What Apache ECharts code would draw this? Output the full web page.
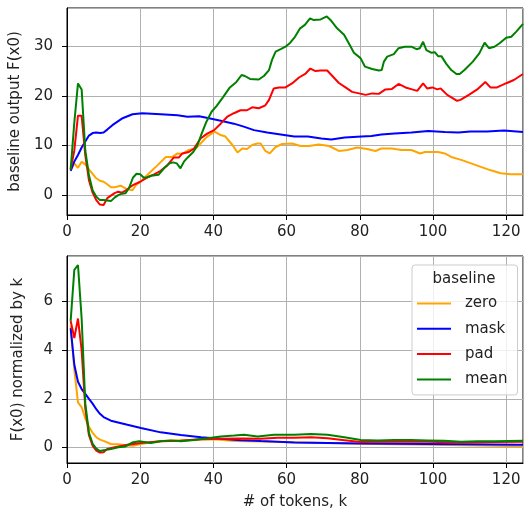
<!DOCTYPE html>
<html>
<head>
<meta charset="utf-8">
<script src="https://cdn.jsdelivr.net/npm/echarts@6/dist/echarts.min.js"></script>
<style>html,body{margin:0;padding:0;background:#fff}#c{width:524px;height:515px}</style>
</head>
<body>
<div id="c"></div>
<script>
// ---- data (k, value) ----
const seriesNames = ['zero', 'mask', 'pad', 'mean'];
const seriesColors = ['#FFA500', '#0000FF', '#FF0000', '#008000'];
const xTicks = [0, 20, 40, 60, 80, 100, 120];
const topYTicks = [0, 10, 20, 30];
const bottomYTicks = [0, 2, 4, 6];

// top panel: baseline output F(x0)
const zeroTop = [[1,5],[2,6.4],[3,5.5],[4,6.7],[5,6.2],[6,5.2],[7,4.3],[8,3.4],[9,2.9],[10,2.7],[11,2.2],[12,1.6],[13,1.6],[14.7,1.9],[16.1,1.3],[17.9,1],[18.8,2],[20.1,2.7],[22.4,4.4],[24.7,6],[27,7.7],[28.8,7.7],[30.2,8.4],[31.5,8.3],[33.3,9.1],[35.2,9.4],[36.5,10.4],[38.3,11.8],[40.3,12.8],[42,12.1],[43.3,11.8],[45.2,10.1],[46.6,8.6],[47.9,9.4],[49.2,9.3],[50.6,10.1],[52,10.4],[52.9,10.4],[54.2,8.9],[55.4,8.4],[57,9.7],[58.8,10.3],[61.5,10.4],[63.8,9.9],[66.1,9.9],[68.8,10.2],[71.6,9.9],[74.3,8.9],[76.6,9.1],[79.3,9.6],[82,9.3],[84.3,8.9],[85.9,9.4],[88.7,9.4],[91.4,9.1],[94.1,9.1],[96.5,8.4],[97.8,8.7],[99.6,8.7],[101.4,8.7],[103.2,8.4],[105,7.7],[107.7,7.1],[110.4,6.4],[113.1,5.7],[115.8,5],[118.5,4.4],[121.2,4.2],[124.6,4.2]];
const maskTop = [[1,4.9],[2,6.8],[3,8.1],[4,9.6],[5,10.8],[6,12],[7,12.5],[8,12.6],[9,12.5],[10,12.6],[11,13.2],[12.4,14.1],[15.2,15.5],[17.9,16.3],[20.6,16.5],[25.6,16.3],[30.2,16.1],[32.9,15.8],[36.1,15.9],[38.8,15.5],[42,15],[45.6,14.4],[48.3,13.8],[51.1,13.1],[54.7,12.6],[58.4,12.2],[62.1,11.8],[65.8,11.8],[69.5,11.4],[72.2,11.2],[75.9,11.6],[80.5,11.8],[83.2,11.9],[85.9,12.2],[89.5,12.4],[94.1,12.6],[98.7,12.9],[103.2,12.7],[106.9,12.6],[110.2,12.8],[114.8,12.8],[119.4,13],[124.6,12.7]];
const padTop = [[1,5.2],[2,9],[3,16],[4,16],[5,8],[6,3],[7,0.5],[8,-1],[9,-1.9],[10,-2],[11,-0.6],[12,-0.1],[13,0.4],[14,0.7],[15,0.5],[16,0.9],[17,1.5],[18,2],[20,2.7],[22,3.6],[23.8,4.2],[25.6,4.9],[27.4,6],[29.2,7.6],[30.6,7.6],[31.5,8.4],[33.3,8.7],[34.7,9.4],[36.5,11.4],[38.3,12.4],[40.2,13.1],[42,14.4],[43.8,15.8],[45.6,16.5],[47.4,17.1],[49.2,17.1],[50.6,17.7],[52.4,17.5],[54.2,18.1],[55.2,19.2],[56.5,21.5],[57.9,21.7],[59.7,21.7],[61.5,22.5],[63.4,23.7],[65.2,24.5],[66.5,25.5],[67.9,25],[69.3,25.1],[71.1,25.1],[72.5,24],[74.3,22.6],[76.1,21.7],[77.9,20.8],[79.8,20.5],[81.6,20.2],[83.4,20.5],[85.2,20.4],[87,21.3],[88.8,21.4],[90.6,22.4],[92.5,21.7],[94.3,21.3],[95.7,21],[97.3,22.5],[98.4,21.5],[99.8,21.7],[101.2,21.3],[102.1,21.5],[103.9,20.2],[106.6,19],[107.5,19.2],[109.8,20.2],[112.1,21.3],[114.3,22.8],[115.7,21.7],[117.5,21.7],[120.2,22.6],[122.1,23.2],[124.6,24.4]];
const meanTop = [[1,5.2],[2,14.6],[3,22.5],[4,21.3],[5,9],[6,4],[7,1],[8,-0.3],[9,-1],[10,-1],[11,-1.1],[12,-1.2],[13,-0.5],[14,0],[15,0.3],[16,0.4],[17,1.5],[18,3.5],[19,4.3],[20,4.2],[21,3.5],[22,3.6],[23,3.9],[25,4.1],[26.5,5.4],[28,6.4],[29,6.6],[30,6.4],[31,5.4],[32,6.8],[33,7.6],[34.5,8.7],[35.6,10],[36.8,12.4],[38.1,14.8],[39.5,16.8],[40.9,18],[42.7,19.8],[44.5,21.7],[46.3,22.8],[47.7,24.2],[48.6,24],[50,23.4],[52.4,23.3],[53.8,24],[55.2,25.2],[56,27.2],[57,28.9],[58.4,29.4],[59.7,29.9],[61,30.7],[62.3,31.9],[63.7,33.6],[65,34.3],[66.4,35.6],[67.3,35.3],[69.3,35.4],[71,36],[72,35.3],[73.8,33.6],[75.7,32.3],[77,30.6],[78.4,28.7],[80.2,27.6],[81.4,25.9],[83.4,25.4],[85.2,25.1],[86,25.2],[86.6,26.9],[87.5,27.9],[89.3,28.4],[90.6,29.6],[92.3,29.9],[94.1,29.9],[95.5,29.4],[96.4,29.6],[97.3,30.9],[98.2,29.2],[99.5,28.7],[100.5,28.8],[101.4,28],[102.3,28],[103.6,26.5],[105,25.2],[106.4,24.4],[107.3,24.4],[108.6,25.2],[110.9,26.9],[112.7,28.6],[114.1,30.7],[115.3,29.6],[116.8,29.9],[118.2,30.6],[120,31.7],[121.4,31.9],[122.7,32.9],[124.6,34.5]];

// bottom panel: F(x0) normalized by k
const zeroBottom = [[1,5],[2,3.2],[3,1.85],[4,1.65],[5,1.2],[6,0.85],[7,0.6],[8,0.42],[9,0.32],[10,0.27],[12,0.14],[14,0.13],[16.5,0.08],[18,0.07],[20.2,0.14],[25.6,0.26],[31.1,0.3],[36.6,0.33],[40.2,0.34],[45.7,0.26],[53,0.24],[62.1,0.21],[71.2,0.18],[80.3,0.15],[89.4,0.13],[98.6,0.11],[107.7,0.09],[116.8,0.07],[124.6,0.05]];
const maskBottom = [[1,4.9],[2,3.4],[3,2.7],[4,2.4],[5,2.2],[6,2.0],[7,1.8],[8,1.57],[9,1.38],[10,1.25],[12,1.1],[16.5,0.93],[20.2,0.8],[25.6,0.62],[31.1,0.51],[36.6,0.42],[42,0.36],[47.5,0.3],[53,0.26],[62.1,0.2],[71.2,0.18],[80.3,0.16],[89.4,0.15],[98.6,0.14],[107.7,0.13],[124.6,0.11]];
const padBottom = [[1,5.2],[2,4.5],[3,5.3],[4,4.0],[5,1.6],[6,0.5],[7,0.07],[8,-0.13],[9,-0.21],[10,-0.2],[11,-0.06],[13,0.01],[16.5,0.11],[20.2,0.18],[25.6,0.25],[31.1,0.27],[36.6,0.34],[42,0.36],[47.5,0.37],[53,0.36],[57.5,0.4],[62.1,0.4],[66.7,0.42],[71.2,0.38],[75.8,0.3],[80.3,0.22],[89.4,0.23],[98.6,0.23],[107.7,0.2],[116.8,0.22],[124.6,0.23]];
const meanBottom = [[1,5.2],[2,7.3],[3,7.5],[4,5.3],[5,1.8],[6,0.6],[7,0.15],[8,-0.05],[9,-0.15],[10,-0.12],[12,-0.07],[14,0.01],[16,0.04],[17.8,0.2],[19.7,0.25],[22.9,0.18],[25.6,0.25],[28.4,0.29],[31.1,0.25],[34.7,0.31],[38.4,0.38],[42,0.45],[45.7,0.49],[48.4,0.52],[52.1,0.45],[56.6,0.52],[62.1,0.52],[66.7,0.55],[71.2,0.52],[75.8,0.42],[80.3,0.31],[84.9,0.29],[89.4,0.31],[94,0.31],[98.6,0.29],[103.1,0.27],[107.7,0.23],[112.2,0.25],[116.8,0.25],[124.6,0.27]];

const topData = [zeroTop, maskTop, padTop, meanTop];
const bottomData = [zeroBottom, maskBottom, padBottom, meanBottom];

const FONT = 'DejaVu Sans';
const TXT = '#222';
const FS = 15;

function xAxisCfg(gridIndex, name) {
  return {
    type: 'value', gridIndex, min: 0, max: 124.6,
    splitNumber: 6,
    axisLine: { show: true, onZero: false, lineStyle: { color: '#000', width: 1 } },
    axisTick: { show: true, length: 5, lineStyle: { color: '#000' } },
    axisLabel: {
      color: TXT, fontFamily: FONT, fontSize: FS, margin: 10, showMaxLabel: false,
      formatter: v => (xTicks.indexOf(v) >= 0 ? String(v) : '')
    },
    splitLine: { show: true, lineStyle: { color: '#b0b0b0', width: 1 } },
    name: name || '', nameLocation: 'middle', nameGap: 32,
    nameTextStyle: { color: TXT, fontFamily: FONT, fontSize: FS }
  };
}
function yAxisCfg(gridIndex, min, max, ticks, name) {
  return {
    type: 'value', gridIndex, min, max, splitNumber: 4,
    axisLine: { show: true, onZero: false, lineStyle: { color: '#000', width: 1 } },
    axisTick: { show: true, length: 5, lineStyle: { color: '#000' } },
    axisLabel: {
      color: TXT, fontFamily: FONT, fontSize: FS, margin: 14,
      showMinLabel: false, showMaxLabel: false,
      formatter: v => (ticks.indexOf(v) >= 0 ? String(v) : '')
    },
    splitLine: { show: true, lineStyle: { color: '#b0b0b0', width: 1 } },
    name, nameLocation: 'middle', nameGap: 41,
    nameTextStyle: { color: TXT, fontFamily: FONT, fontSize: FS }
  };
}

const series = [];
seriesNames.forEach((n, i) => {
  series.push({ name: n, type: 'line', xAxisIndex: 0, yAxisIndex: 0, data: topData[i],
    showSymbol: false, symbol: 'none', lineStyle: { color: seriesColors[i], width: 2 },
    itemStyle: { color: seriesColors[i] }, z: 2 + i, silent: true });
  series.push({ name: n, type: 'line', xAxisIndex: 1, yAxisIndex: 1, data: bottomData[i],
    showSymbol: false, symbol: 'none', lineStyle: { color: seriesColors[i], width: 2 },
    itemStyle: { color: seriesColors[i] }, z: 2 + i, silent: true });
});

const chart = echarts.init(document.getElementById('c'), null, { renderer: 'canvas' });
chart.setOption({
  animation: false,
  backgroundColor: '#fff',
  textStyle: { fontFamily: FONT },
  grid: [
    { left: 67, top: 8, width: 456, height: 207, show: true, borderColor: '#000', borderWidth: 1, backgroundColor: 'transparent' },
    { left: 67, top: 256, width: 456, height: 207, show: true, borderColor: '#000', borderWidth: 1, backgroundColor: 'transparent' }
  ],
  xAxis: [xAxisCfg(0), xAxisCfg(1, '# of tokens, k')],
  yAxis: [
    yAxisCfg(0, -4, 37.7, topYTicks, 'baseline output F(x0)'),
    yAxisCfg(1, -0.64, 7.87, bottomYTicks, 'F(x0) normalized by k')
  ],
  title: {
    text: 'baseline', left: 464, top: 272, textAlign: 'center', padding: 0,
    textStyle: { color: TXT, fontFamily: FONT, fontSize: FS, fontWeight: 'normal' }, z: 20
  },
  legend: {
    data: seriesNames, orient: 'vertical', left: 412, top: 265,
    padding: [31, 10, 8, 5], itemGap: 10.3, itemWidth: 34, itemHeight: 2, icon: 'rect',
    textStyle: { color: TXT, fontFamily: FONT, fontSize: FS, padding: [0, 0, 0, 9] },
    backgroundColor: 'rgba(255,255,255,0.8)', borderColor: '#cccccc', borderWidth: 1, borderRadius: 3,
    selectedMode: false, z: 10
  },
  series
});
</script>
</body>
</html>
